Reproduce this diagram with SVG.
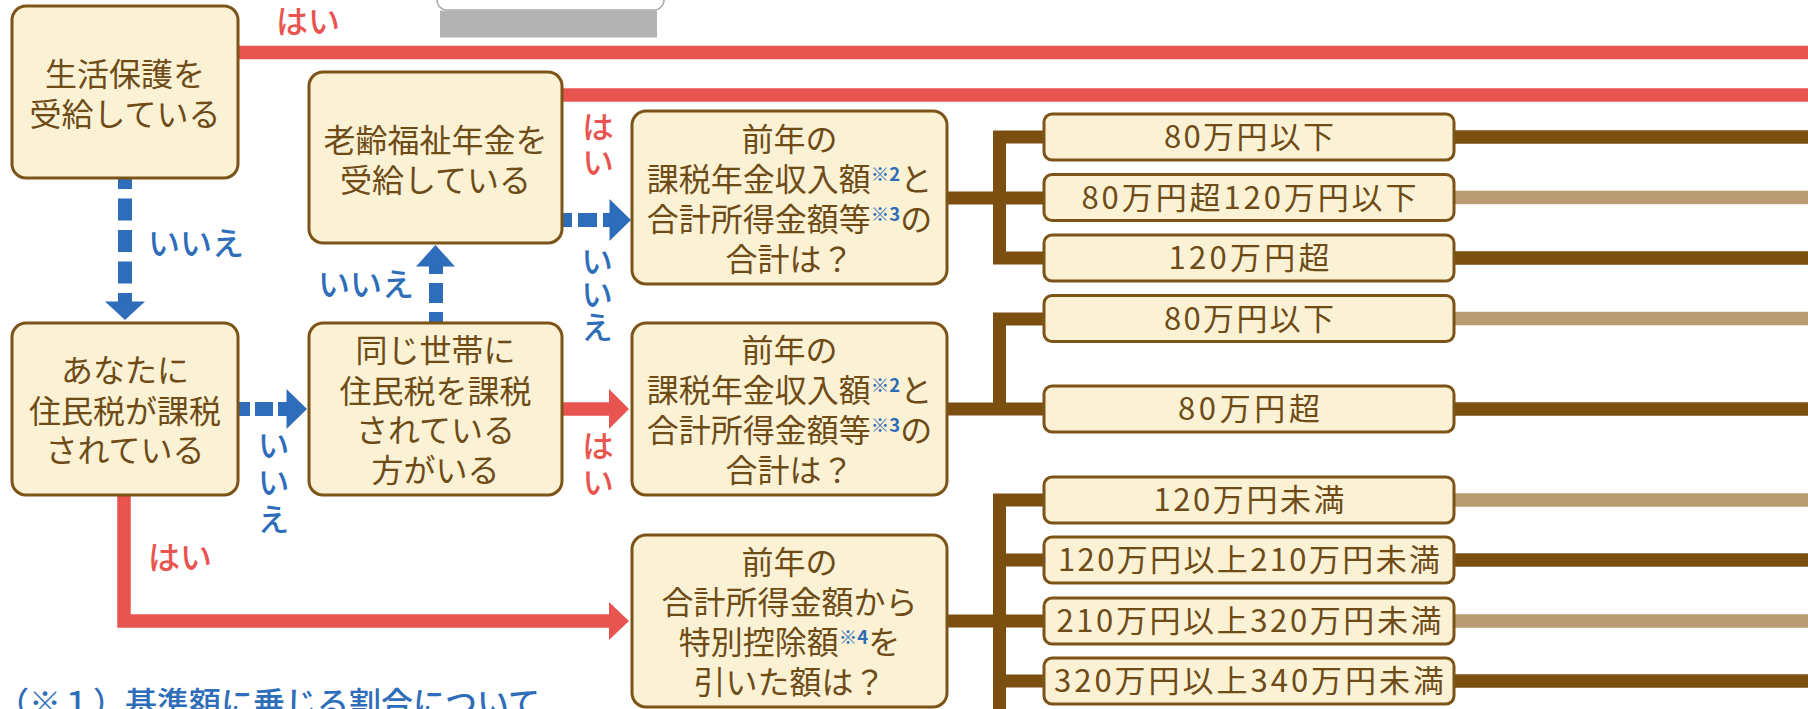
<svg xmlns="http://www.w3.org/2000/svg" width="1808" height="709" viewBox="0 0 1808 709">
<style>
.node{fill:#FBF2D6;stroke:#7D5418;stroke-width:3}
.t{font-family:"Noto Sans CJK JP","Noto Sans CJK SC",sans-serif;font-size:32px;fill:#6E4B17;text-anchor:middle}
.ot{font-family:"Noto Sans CJK JP","Noto Sans CJK SC",sans-serif;font-size:31px;fill:#6E4B17;text-anchor:middle}
.sup{font-size:18.5px;font-weight:700;fill:#2E6DB9}
.lbl{font-family:"Noto Sans CJK JP","Noto Sans CJK SC",sans-serif;font-size:32px;font-weight:500}
.red{fill:#E85450}
.blue{fill:#2E6DB9}
.vt{writing-mode:vertical-rl;text-orientation:upright}
.rl{fill:none;stroke:#E85450;stroke-width:13.5}
.bd{fill:none;stroke:#2E6DB9;stroke-width:14}
.br{fill:none;stroke:#7A4F10;stroke-width:13;stroke-linejoin:miter}
.tan{fill:none;stroke:#B89C72;stroke-width:13.5}
.dk{fill:none;stroke:#7A4F10;stroke-width:13.5}
</style>
<g id="top-bar">
<rect x="437" y="-12" width="227" height="22" rx="10" fill="#FFFFFF" stroke="#AAAAAA" stroke-width="1.5"/>
<rect x="440" y="10.5" width="217" height="27" fill="#B3B3B3"/>
</g>
<g id="connectors">
<path class="rl" d="M236,52.5 H1808"/>
<path class="rl" d="M560,95 H1808"/>
<path class="rl" d="M560,409 H610"/>
<polygon class="red" points="609,389 629,409 609,429"/>
<path class="rl" d="M124,494 V621 H610" stroke-linejoin="miter"/>
<polygon class="red" points="609,602 629,621 609,640"/>
<path class="bd" d="M125,302 V178" stroke-dasharray="22 9.5" stroke-dashoffset="13"/>
<polygon class="blue" points="105,301.5 145,301.5 125,320"/>
<path class="bd" d="M436,266 V323" stroke-dasharray="20 9" stroke-dashoffset="12"/>
<polygon class="blue" points="416,266.5 455,266.5 435.5,245"/>
<path class="bd" d="M287,409 H238" stroke-dasharray="18 5" stroke-dashoffset="9"/>
<polygon class="blue" points="286.5,389 307,409 286.5,429"/>
<path class="bd" d="M610,220 H562" stroke-dasharray="19 6" stroke-dashoffset="12"/>
<polygon class="blue" points="609.5,199 631,220 609.5,241"/>
<path class="br" d="M1046,137 H999.5 V258 H1046 M947,198 H1046"/>
<path class="br" d="M1046,319 H999.5 V409 H947 M999.5,409 H1046"/>
<path class="br" d="M1046,500 H999.5 V720 M999.5,560 H1046 M947,621 H1046 M999.5,681 H1046"/>
<path class="dk" d="M1452,137 H1808"/>
<path class="tan" d="M1452,197.5 H1808"/>
<path class="dk" d="M1452,258 H1808"/>
<path class="tan" d="M1452,318.5 H1808"/>
<path class="dk" d="M1452,409 H1808"/>
<path class="tan" d="M1452,500 H1808"/>
<path class="dk" d="M1452,560 H1808"/>
<path class="tan" d="M1452,621 H1808"/>
<path class="dk" d="M1452,681 H1808"/>
</g>
<g id="labels">
<text class="lbl red" x="276" y="33">はい</text>
<text class="lbl blue" x="148" y="255">いいえ</text>
<text class="lbl blue" x="318" y="296">いいえ</text>
<text class="lbl red vt" x="598" y="111" letter-spacing="3">はい</text>
<text class="lbl blue vt" x="597" y="245" letter-spacing="1">いいえ</text>
<text class="lbl blue vt" x="273.5" y="429" letter-spacing="5">いいえ</text>
<text class="lbl red vt" x="598" y="430" letter-spacing="4">はい</text>
<text class="lbl red" x="148" y="569">はい</text>
<text class="lbl blue" x="-3" y="715">（※１）基準額に乗じる割合について</text>
</g>
<g id="node-seikatsuhogo">
<rect class="node" x="12" y="6" width="226" height="172" rx="14"/>
<text class="t" x="125" y="86">生活保護を<tspan x="125" dy="40">受給している</tspan></text>
</g>
<g id="node-roureifukushi">
<rect class="node" x="309" y="72" width="253" height="171" rx="14"/>
<text class="t" x="435.5" y="152">老齢福祉年金を<tspan x="435.5" dy="40">受給している</tspan></text>
</g>
<g id="node-juminzei">
<rect class="node" x="12" y="323" width="226" height="172" rx="14"/>
<text class="t" x="125" y="382">あなたに<tspan x="125" dy="41">住民税が課税</tspan><tspan x="125" dy="39">されている</tspan></text>
</g>
<g id="node-setai">
<rect class="node" x="309" y="323" width="253" height="172" rx="14"/>
<text class="t" x="435.5" y="362">同じ世帯に<tspan x="435.5" dy="41">住民税を課税</tspan><tspan x="435.5" dy="39">されている</tspan><tspan x="435.5" dy="40">方がいる</tspan></text>
</g>
<g id="node-q1">
<rect class="node" x="632" y="111" width="315" height="173" rx="14"/>
<text class="t" x="789.5" y="151">前年の<tspan x="789.5" dy="40">課税年金収入額</tspan><tspan class="sup" dy="-10">※2</tspan><tspan dy="10">と</tspan><tspan x="789.5" dy="40">合計所得金額等</tspan><tspan class="sup" dy="-10">※3</tspan><tspan dy="10">の</tspan><tspan x="789.5" dy="40">合計は？</tspan></text>
</g>
<g id="node-q2">
<rect class="node" x="632" y="323" width="315" height="172" rx="14"/>
<text class="t" x="789.5" y="362">前年の<tspan x="789.5" dy="40">課税年金収入額</tspan><tspan class="sup" dy="-10">※2</tspan><tspan dy="10">と</tspan><tspan x="789.5" dy="40">合計所得金額等</tspan><tspan class="sup" dy="-10">※3</tspan><tspan dy="10">の</tspan><tspan x="789.5" dy="40">合計は？</tspan></text>
</g>
<g id="node-q3">
<rect class="node" x="632" y="535" width="315" height="172" rx="14"/>
<text class="t" x="789.5" y="574">前年の<tspan x="789.5" dy="40">合計所得金額から</tspan><tspan x="789.5" dy="40">特別控除額</tspan><tspan class="sup" dy="-10">※4</tspan><tspan dy="10">を</tspan><tspan x="789.5" dy="40">引いた額は？</tspan></text>
</g>
<g id="opt-1"><rect class="node" x="1044" y="114" width="410" height="46" rx="8"/><text class="ot" x="1249" y="148" textLength="170" lengthAdjust="spacing">80万円以下</text></g>
<g id="opt-2"><rect class="node" x="1044" y="174.5" width="410" height="46" rx="8"/><text class="ot" x="1249" y="208.5" textLength="335" lengthAdjust="spacing">80万円超120万円以下</text></g>
<g id="opt-3"><rect class="node" x="1044" y="235" width="410" height="46" rx="8"/><text class="ot" x="1249" y="269" textLength="161" lengthAdjust="spacing">120万円超</text></g>
<g id="opt-4"><rect class="node" x="1044" y="295.5" width="410" height="46" rx="8"/><text class="ot" x="1249" y="329.5" textLength="170" lengthAdjust="spacing">80万円以下</text></g>
<g id="opt-5"><rect class="node" x="1044" y="386" width="410" height="46" rx="8"/><text class="ot" x="1249" y="420" textLength="142" lengthAdjust="spacing">80万円超</text></g>
<g id="opt-6"><rect class="node" x="1044" y="477" width="410" height="46" rx="8"/><text class="ot" x="1249" y="511" textLength="191" lengthAdjust="spacing">120万円未満</text></g>
<g id="opt-7"><rect class="node" x="1044" y="537" width="410" height="46" rx="8"/><text class="ot" x="1249" y="571" textLength="382" lengthAdjust="spacing">120万円以上210万円未満</text></g>
<g id="opt-8"><rect class="node" x="1044" y="598" width="410" height="46" rx="8"/><text class="ot" x="1249" y="632" textLength="385" lengthAdjust="spacing">210万円以上320万円未満</text></g>
<g id="opt-9"><rect class="node" x="1044" y="658" width="410" height="46" rx="8"/><text class="ot" x="1249" y="692" textLength="390" lengthAdjust="spacing">320万円以上340万円未満</text></g>
</svg>
